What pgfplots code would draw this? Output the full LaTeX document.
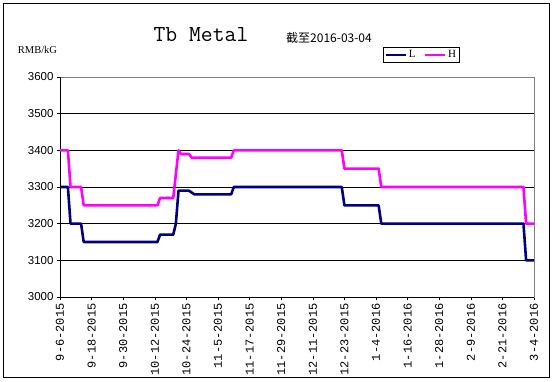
\documentclass[border=0pt]{standalone}
\usepackage{fontspec}
\setmainfont{Liberation Serif}
\newfontfamily\cjk{Noto Sans CJK SC}
\newfontfamily\mono{Liberation Mono}
\newfontfamily\sans{Liberation Sans}
\usepackage{pgfplots}
\pgfplotsset{compat=1.18}
\definecolor{navyL}{RGB}{0,0,128}
\definecolor{magH}{RGB}{255,0,255}
\begin{document}
\begin{tikzpicture}[x=1pt,y=1pt]
\useasboundingbox (-60,-84) rectangle (494,297);
\draw[black, line width=1pt] (-56,-80) rectangle (489,293);
\begin{axis}[
  at={(0,0)}, anchor=south west,
  scale only axis, width=474pt, height=220pt,
  xmin=0, xmax=180, ymin=3000, ymax=3600,
  xtick={0,12,...,180},
  xticklabels={9-6-2015,9-18-2015,9-30-2015,10-12-2015,10-24-2015,11-5-2015,11-17-2015,11-29-2015,12-11-2015,12-23-2015,1-4-2016,1-16-2016,1-28-2016,2-9-2016,2-21-2016,3-4-2016},
  x tick label style={rotate=90, anchor=east, font=\mono\fontsize{12}{12}\selectfont},
  ytick={3000,3100,...,3600},
  y tick label style={font=\sans\fontsize{11.5}{12}\selectfont},
  /pgf/number format/assume math mode=true,
  /pgf/number format/1000 sep={},
  ymajorgrids, grid style={black, line width=0.8pt},
  axis line style={gray, line width=0.8pt},
  tick align=outside, major tick length=3pt, tick style={black, line width=0.6pt},
  tick pos=left,
  clip=false,
  legend columns=2,
  legend style={at={(0.762,1.1)}, anchor=center, draw=black, line width=0.8pt,
    font=\fontsize{11}{11}\selectfont, inner sep=1pt,
    /tikz/every even column/.append style={column sep=6pt}},
  legend image code/.code={\draw[#1, line width=2.5pt] (0pt,0pt) -- (20pt,0pt);},
]
\draw[black, line width=1pt] (axis cs:0,3600) -- (axis cs:0,3000) -- (axis cs:180,3000);
\addplot[navyL, line width=2.6pt, line join=round] coordinates {
(0,3300)(3,3300)(4,3200)(8,3200)(9,3150)(37,3150)(38,3170)(43,3170)(44,3200)(45,3290)(49,3290)(51,3280)(65,3280)(66,3300)(107,3300)(108,3250)(121,3250)(122,3200)(176,3200)(177,3100)(180,3100)};
\addlegendentry{L}
\addplot[magH, line width=2.6pt, line join=round] coordinates {
(0,3400)(3,3400)(4,3300)(8,3300)(9,3250)(37,3250)(38,3270)(43,3270)(45,3400)(46,3390)(49,3390)(50,3380)(65,3380)(66,3400)(107,3400)(108,3350)(121,3350)(122,3300)(176,3300)(177,3200)(180,3200)};
\addlegendentry{H}
\end{axis}
\node[anchor=base, font=\ttfamily\fontsize{23}{23}\selectfont] at (141,255) {Tb Metal};
\node[anchor=center, font=\cjk\fontsize{12}{12}\selectfont] at (269,259) {截至2016-03-04};
\node[anchor=center, font=\fontsize{10.5}{11}\selectfont] at (-22.5,247) {RMB/kG};
\end{tikzpicture}
\end{document}
